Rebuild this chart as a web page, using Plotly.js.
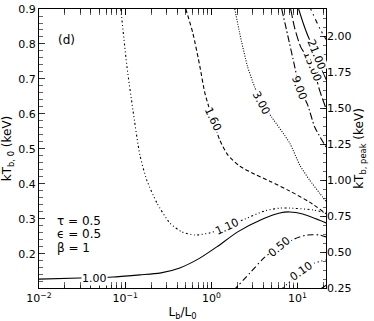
<!DOCTYPE html>
<html>
<head>
<meta charset="utf-8">
<script src="https://cdn.plot.ly/plotly-3.0.1.min.js"></script>
<style>
  html, body { margin: 0; padding: 0; background: #fff; }
  #plot { width: 374px; height: 321px; }
</style>
</head>
<body>
<div id="plot"></div>
<script>
// contour curves (L_b/L_0 , kT_b,0 in keV)
const x005 = [18.5, 21.7];
const y005 = [0.100, 0.111];

const x010 = [6.72, 8.55, 11.2, 15.8, 21.7];
const y010 = [0.103, 0.125, 0.151, 0.174, 0.183];

const x050 = [1.80, 2.79, 4.16, 6.21, 9.25, 12.7, 18.0, 21.7];
const y050 = [0.095, 0.145, 0.191, 0.220, 0.243, 0.254, 0.254, 0.248];

const x100 = [0.01, 0.0299, 0.072, 0.148, 0.252, 0.43, 0.734, 1.155, 2.02, 3.94, 6.21, 8.10, 11.5, 21.7];
const y100 = [0.128, 0.131, 0.134, 0.140, 0.145, 0.160, 0.188, 0.220, 0.263, 0.300, 0.317, 0.320, 0.314, 0.288];

const x110 = [0.089, 0.105, 0.123, 0.148, 0.178, 0.233, 0.330, 0.454, 0.643, 0.958, 1.55, 2.31, 4.16, 6.21, 8.10, 15.0, 21.7];
const y110 = [0.900, 0.734, 0.611, 0.483, 0.411, 0.346, 0.288, 0.263, 0.254, 0.260, 0.277, 0.297, 0.323, 0.331, 0.331, 0.326, 0.317];

const x160 = [0.505, 0.61, 0.734, 0.84, 1.04, 1.25, 1.55, 2.13, 3.18, 4.75, 8.10, 13.8, 21.7];
const y160 = [0.900, 0.831, 0.737, 0.660, 0.583, 0.526, 0.483, 0.451, 0.428, 0.408, 0.380, 0.348, 0.314];

const x300 = [1.87, 2.13, 2.64, 3.18, 3.84, 5.01, 8.10, 10.6, 13.8, 18.0, 21.7];
const y300 = [0.900, 0.831, 0.734, 0.677, 0.631, 0.591, 0.517, 0.454, 0.411, 0.374, 0.348];

const x900 = [6.55, 7.67, 9.01, 10.6, 13.1, 15.8, 21.7];
const y900 = [0.900, 0.826, 0.749, 0.674, 0.626, 0.563, 0.503];

const x1500 = [8.32, 9.25, 10.9, 15.0, 18.0, 21.7];
const y1500 = [0.900, 0.846, 0.791, 0.737, 0.668, 0.611];

const x2100 = [10.3, 11.5, 13.5, 16.6, 19.0, 21.7];
const y2100 = [0.900, 0.863, 0.817, 0.771, 0.726, 0.697];

const x2700 = [14.2, 16.2, 18.5, 21.7];
const y2700 = [0.900, 0.869, 0.840, 0.811];

// contour labels: text, where it sits on its curve, rotation
const labelText = ['0.10', '0.50', '1.00', '1.10', '1.60', '3.00', '9.00', '15.00', '21.00'];
const labelX = [11.0, 6.21, 0.0446, 1.55, 1.04, 3.84, 10.6, 15.0, 16.6];
const labelY = [0.150, 0.221, 0.131, 0.277, 0.583, 0.631, 0.674, 0.737, 0.771];
const labelAngle = [-35, -40, 0, -25, 65, 62, 70, 68, 68];

// right axis ticks
const peakTicks = [0.25, 0.5, 0.75, 1.0, 1.25, 1.5, 1.75, 2.0];

const curves = [
  [x005, y005, 'solid'],
  [x010, y010, '1px,3px'],
  [x050, y050, '6px,3px,1.5px,3px'],
  [x100, y100, 'solid'],
  [x110, y110, '2px,2.5px,1px,2.5px,1px,2.5px'],
  [x160, y160, '4px,2.5px'],
  [x300, y300, '1px,1.5px'],
  [x900, y900, '7px,2.5px,1.5px,2.5px'],
  [x1500, y1500, '9px,3px'],
  [x2100, y2100, 'solid'],
  [x2700, y2700, '1.5px,4px,1.5px,4px,5px,4px']
];

let data = curves.map(c => ({
  x: c[0], y: c[1], type: 'scatter', mode: 'lines',
  line: {color: 'black', width: 1.1, dash: c[2], shape: 'spline', smoothing: 0.6},
  hoverinfo: 'skip', showlegend: false
}));

// dummy trace so the right axis is drawn
data.push({x: [1], y: [1], yaxis: 'y2', mode: 'markers', marker: {opacity: 0}, hoverinfo: 'skip', showlegend: false});

const font = {family: 'DejaVu Sans, sans-serif', size: 11, color: 'black'};

let annotations = labelText.map((t, i) => ({
  x: Math.log10(labelX[i]), y: labelY[i], xref: 'x', yref: 'y',
  text: t, textangle: labelAngle[i], showarrow: false,
  bgcolor: 'white', borderpad: 0, font: font
}));

const bigFont = {family: 'DejaVu Sans, sans-serif', size: 12, color: 'black'};
annotations.push({x: -1.80, y: 0.811, xref: 'x', yref: 'y', xanchor: 'left', text: '(d)', showarrow: false, font: bigFont});
annotations.push({x: -1.81, y: 0.294, xref: 'x', yref: 'y', xanchor: 'left', text: 'τ = 0.5', showarrow: false, font: bigFont});
annotations.push({x: -1.81, y: 0.257, xref: 'x', yref: 'y', xanchor: 'left', text: 'ϵ = 0.5', showarrow: false, font: bigFont});
annotations.push({x: -1.81, y: 0.217, xref: 'x', yref: 'y', xanchor: 'left', text: 'β = 1', showarrow: false, font: bigFont});

// log minor ticks 2..9 per decade
let minorX = [];
for (let k = -2; k <= 1; k++) {
  for (let m = 2; m <= 9; m++) minorX.push(m * Math.pow(10, k));
}

const layout = {
  width: 374, height: 321,
  margin: {l: 39, r: 48, t: 9, b: 33},
  paper_bgcolor: 'white', plot_bgcolor: 'white',
  font: font,
  xaxis: {
    type: 'log', range: [-2, 1.33],
    tickmode: 'array',
    tickvals: [0.01, 0.1, 1, 10],
    ticktext: ['10<sup>−2</sup>', '10<sup>−1</sup>', '10<sup>0</sup>', '10<sup>1</sup>'],
    ticks: 'inside', ticklen: 6, tickwidth: 0.8, tickcolor: 'black',
    minor: {tickmode: 'array', tickvals: minorX, ticks: 'inside', ticklen: 3.5, tickwidth: 0.6, tickcolor: 'black'},
    showline: true, linecolor: 'black', linewidth: 1, mirror: 'allticks',
    showgrid: false, zeroline: false,
    title: {text: 'L<sub>b</sub>/L<sub>0</sub>', font: bigFont, standoff: 8}
  },
  yaxis: {
    range: [0.1026, 0.9], dtick: 0.1, tick0: 0, tickformat: '.1f',
    ticks: 'inside', ticklen: 6, tickwidth: 0.8, tickcolor: 'black',
    minor: {dtick: 0.02, tick0: 0, ticks: 'inside', ticklen: 3.5, tickwidth: 0.6, tickcolor: 'black'},
    showline: true, linecolor: 'black', linewidth: 1, mirror: true,
    showgrid: false, zeroline: false,
    title: {text: 'kT<sub>b, 0</sub> (keV)', font: bigFont, standoff: 4}
  },
  yaxis2: {
    overlaying: 'y', side: 'right',
    range: [0.25, 2.19],
    tickmode: 'array', tickvals: peakTicks, tickformat: '.2f',
    ticks: 'inside', ticklen: 6, tickwidth: 0.8, tickcolor: 'black',
    minor: {dtick: 0.0625, tick0: 0, ticks: 'inside', ticklen: 3.5, tickwidth: 0.6, tickcolor: 'black'},
    showgrid: false, zeroline: false, showline: false,
    title: {text: 'kT<sub>b, peak</sub> (keV)', font: bigFont, standoff: 4}
  },
  annotations: annotations
};

Plotly.newPlot('plot', data, layout, {staticPlot: true});
</script>
</body>
</html>
